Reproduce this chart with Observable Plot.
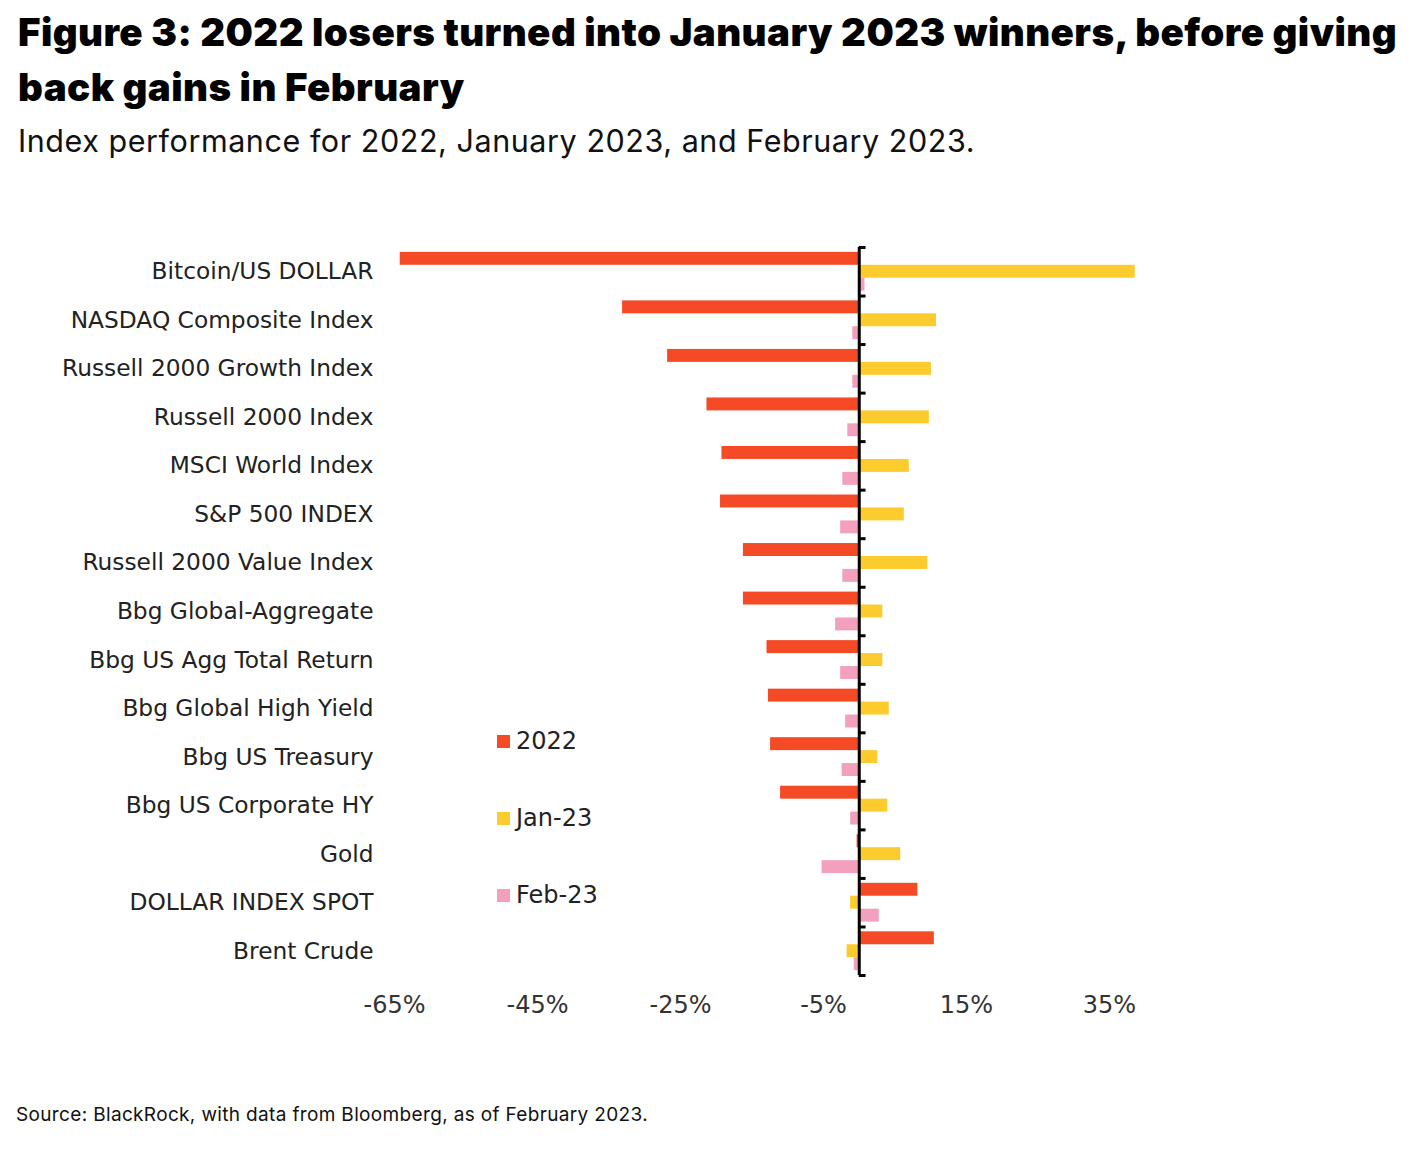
<!DOCTYPE html>
<html><head><meta charset="utf-8">
<script src="https://cdn.jsdelivr.net/npm/d3@7"></script>
<script src="https://cdn.jsdelivr.net/npm/@observablehq/plot@0.6"></script>
<style>
body{margin:0;background:#fff;font-family:Inter,"Noto Sans",sans-serif;}
#wrap{position:relative;width:1416px;height:1150px;overflow:hidden;}
#title{position:absolute;left:18px;top:5px;font-weight:900;font-size:38.5px;line-height:55px;color:#000;white-space:nowrap;}
#subtitle{position:absolute;left:18px;top:122px;font-size:30.5px;line-height:38px;color:#111;white-space:nowrap}
#chart{position:absolute;left:0;top:170px;}
#source{position:absolute;left:16px;top:1104px;font-size:19px;line-height:22px;color:#111;white-space:nowrap}
.lg{position:absolute;left:497px;font-size:24px;line-height:30px;color:#222;font-family:"DejaVu Sans",sans-serif;display:flex;align-items:center;}
.lg span.sw{display:inline-block;width:13px;height:13px;margin-right:6px;}
</style>
</head><body>
<div id="wrap">
<div id="title"><span id="t1">Figure 3: 2022 losers turned into January 2023 winners, before giving</span><br><span id="t2">back gains in February</span></div>
<div id="subtitle"><span id="st">Index performance for 2022, January 2023, and February 2023.</span></div>
<div id="chart"></div>
<div id="legend"></div>
<div id="source"><span id="src">Source: BlackRock, with data from Bloomberg, as of February 2023.</span></div>
</div>
<script>
const categories = ["Bitcoin/US DOLLAR","NASDAQ Composite Index","Russell 2000 Growth Index","Russell 2000 Index","MSCI World Index","S&P 500 INDEX","Russell 2000 Value Index","Bbg Global-Aggregate","Bbg US Agg Total Return","Bbg Global High Yield","Bbg US Treasury","Bbg US Corporate HY","Gold","DOLLAR INDEX SPOT","Brent Crude"];
const v2022 = [-64.2,-33.1,-26.8,-21.3,-19.2,-19.4,-16.2,-16.2,-12.9,-12.7,-12.4,-11.0,-0.3,8.2,10.5];
const vJan23 = [38.6,10.8,10.1,9.8,7.0,6.3,9.6,3.3,3.3,4.2,2.6,4.0,5.8,-1.2,-1.7];
const vFeb23 = [0.8,-0.9,-0.9,-1.6,-2.3,-2.6,-2.3,-3.3,-2.6,-1.9,-2.4,-1.2,-5.2,2.8,-0.7];
const seriesNames = ["2022","Jan-23","Feb-23"];
const seriesColors = ["#F44A25","#FCCB2E","#F3A0BF"];
const xTicks = [-65,-45,-25,-5,15,35];

const rows = [];
categories.forEach((c,i)=>{
  rows.push({cat:c, series:"2022", value:v2022[i]});
  rows.push({cat:c, series:"Jan-23", value:vJan23[i]});
  rows.push({cat:c, series:"Feb-23", value:vFeb23[i]});
});

const W = 1416, H = 870, MT = 77, MB = 65, ML = 394, MR = 307;
const PI = 0.2;
const step = (H - MT - MB) / categories.length;
const bw = step * (1 - PI);
const third = bw / 3;

const bar = (s, k) => Plot.barX(rows.filter(d => d.series === s), {
  y: "cat", x1: 0, x2: "value", fill: seriesColors[k],
  insetTop: third * k, insetBottom: third * (2 - k)
});

const chart = Plot.plot({
  width: W, height: H,
  marginTop: MT, marginBottom: MB, marginLeft: ML, marginRight: MR,
  style: {fontFamily: "'DejaVu Sans',sans-serif", color: "#222", background: "transparent"},
  x: {domain: [-65, 35], label: null},
  y: {domain: categories, paddingInner: PI, paddingOuter: PI / 2, round: false, label: null},
  marks: [
    bar("2022", 0), bar("Jan-23", 1), bar("Feb-23", 2),
    Plot.ruleX([0], {stroke: "#000", strokeWidth: 3}),
    Plot.ruleY(categories, {y: d => d, x1: 0, x2: 0.95, dy: -step / 2, stroke: "#000", strokeWidth: 3}),
    Plot.ruleY(categories.slice(-1), {y: d => d, x1: 0, x2: 0.95, dy: step / 2, stroke: "#000", strokeWidth: 3}),
    Plot.axisY({tickSize: 0, tickPadding: 21, fontSize: 23.3, fontFamily: "'DejaVu Sans',sans-serif", fill: "#222"}),
    Plot.axisX({ticks: xTicks, tickFormat: d => d + "%", tickSize: 0, tickPadding: 20, fontSize: 24, fill: "#333", fontFamily: "'DejaVu Sans',sans-serif", letterSpacing: 1.5})
  ]
});
document.getElementById("chart").appendChild(chart);

const lg = document.getElementById("legend");
const lgTops = [726, 803, 880];
seriesNames.forEach((s, k) => {
  const d = document.createElement("div");
  d.className = "lg";
  d.style.top = lgTops[k] + "px";
  d.innerHTML = `<span class="sw" style="background:${seriesColors[k]}"></span>${s}`;
  lg.appendChild(d);
});

// fit text widths to the reference layout via letter-spacing
function fit(id, target) {
  const el = document.getElementById(id);
  const w = el.getBoundingClientRect().width;
  const n = el.textContent.length;
  el.style.letterSpacing = ((target - w) / n) + "px";
}
fit("t1", 1379);
document.getElementById("t2").style.letterSpacing = document.getElementById("t1").style.letterSpacing;
fit("st", 957);
fit("src", 632);
</script>
</body></html>
